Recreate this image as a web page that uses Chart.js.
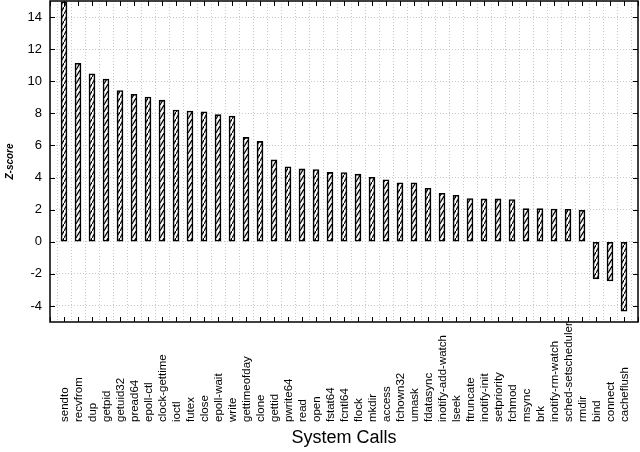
<!DOCTYPE html>
<html lang="en">
<head>
  <meta charset="UTF-8" />
  <title>System Calls z-score</title>
  <script src="https://cdn.jsdelivr.net/npm/chart.js"></script>
  <style>
    body { margin: 0; background: #fff; }
    .wrap { width: 640px; height: 452px; }
  </style>
</head>
<body>
  <div class="wrap"><canvas id="chart"></canvas></div>
  <script>
    // one bar per system call, sorted by score
    const syscalls = [
      'sendto', 'recvfrom', 'dup', 'getpid', 'getuid32', 'pread64', 'epoll-ctl',
      'clock-gettime', 'ioctl', 'futex', 'close', 'epoll-wait', 'write',
      'gettimeofday', 'clone', 'gettid', 'pwrite64', 'read', 'open', 'fstat64',
      'fcntl64', 'flock', 'mkdir', 'access', 'fchown32', 'umask', 'fdatasync',
      'inotify-add-watch', 'lseek', 'ftruncate', 'inotify-init', 'setpriority',
      'fchmod', 'msync', 'brk', 'inotify-rm-watch', 'sched-setscheduler', 'rmdir',
      'bind', 'connect', 'cacheflush'
    ];
    const zscores = [
      14.95, 11.12, 10.47, 10.14, 9.42, 9.19, 9.02,
      8.82, 8.21, 8.14, 8.1, 7.92, 7.83,
      6.5, 6.25, 5.1, 4.67, 4.54, 4.5, 4.32,
      4.31, 4.21, 4.02, 3.86, 3.67, 3.67, 3.33,
      3.02, 2.9, 2.69, 2.67, 2.67,
      2.63, 2.06, 2.06, 2.04, 2.02, 1.96,
      -2.31, -2.44, -4.33
    ];
    const yTicks = [-4, -2, 0, 2, 4, 6, 8, 10, 12, 14];
    const yMin = -5, yMax = 15;

    // empty slot at each end so the bars sit one step in from the frame
    const axisLabels = ['', ...syscalls, ''];
    const axisValues = [null, ...zscores, null];

    // steep "/" hatch fill like gnuplot pattern bars
    function hatch() {
      const c = document.createElement('canvas');
      c.width = 4; c.height = 7;
      const g = c.getContext('2d');
      g.fillStyle = '#fff';
      g.fillRect(0, 0, 4, 7);
      g.strokeStyle = '#000';
      g.lineWidth = 1.2;
      g.beginPath();
      g.moveTo(-0.5, 7.9); g.lineTo(4.5, -0.9);
      g.stroke();
      return g.createPattern(c, 'repeat');
    }

    // box round the plot plus inward tick marks on all four sides
    const frame = {
      id: 'frame',
      afterDatasetsDraw(chart) {
        const { ctx, chartArea: a, scales: { x, y } } = chart;
        ctx.save();
        ctx.strokeStyle = '#000';
        ctx.lineWidth = 1;
        ctx.beginPath();
        x.ticks.forEach((t, i) => {
          const px = Math.round(x.getPixelForTick(i)) + 0.5;
          ctx.moveTo(px, a.bottom); ctx.lineTo(px, a.bottom - 5);
          ctx.moveTo(px, a.top); ctx.lineTo(px, a.top + 5);
        });
        y.ticks.forEach((t, i) => {
          const py = Math.round(y.getPixelForTick(i)) + 0.5;
          ctx.moveTo(a.left, py); ctx.lineTo(a.left + 5, py);
          ctx.moveTo(a.right, py); ctx.lineTo(a.right - 5, py);
        });
        ctx.stroke();
        ctx.lineWidth = 1.5;
        ctx.strokeRect(a.left, a.top, a.width, a.height);
        ctx.restore();
      }
    };

    // category names read bottom to top, starting from a common baseline
    const xLabels = {
      id: 'xLabels',
      afterDraw(chart) {
        const { ctx, chartArea: a, scales: { x } } = chart;
        ctx.save();
        ctx.fillStyle = '#000';
        ctx.font = '11.5px "Liberation Sans", Arial, sans-serif';
        ctx.textAlign = 'left';
        ctx.textBaseline = 'middle';
        axisLabels.forEach((name, i) => {
          if (!name) return;
          ctx.save();
          ctx.translate(x.getPixelForTick(i) + 0.5, a.bottom + 100);
          ctx.rotate(-Math.PI / 2);
          ctx.fillText(name, 0, 0);
          ctx.restore();
        });
        ctx.restore();
      }
    };

    const gridStyle = { color: '#c8c8c8', lineWidth: 1, drawTicks: false };

    const ctx = document.getElementById('chart').getContext('2d');
    new Chart(ctx, {
      type: 'bar',
      data: {
        labels: axisLabels,
        datasets: [{
          data: axisValues,
          backgroundColor: hatch(),
          borderColor: '#000',
          borderWidth: 1.6,
          borderSkipped: false,
          barThickness: 6
        }]
      },
      options: {
        responsive: true,
        maintainAspectRatio: false,
        animation: false,
        layout: { padding: { top: 1, right: 2, left: 0, bottom: 0 } },
        plugins: { legend: { display: false }, tooltip: { enabled: false } },
        scales: {
          x: {
            offset: false,
            grid: gridStyle,
            border: { display: false, dash: [1, 2] },
            ticks: { display: false },
            title: {
              display: true,
              text: 'System Calls',
              color: '#000',
              font: { family: '"Liberation Sans", Arial, sans-serif', size: 18 },
              padding: { top: 0, bottom: 3 }
            },
            afterFit(s) { s.height = 130; }
          },
          y: {
            min: yMin,
            max: yMax,
            grid: gridStyle,
            border: { display: false, dash: [1, 2] },
            ticks: {
              color: '#000',
              padding: 8,
              font: { family: '"Liberation Sans", Arial, sans-serif', size: 13 }
            },
            title: {
              display: true,
              text: 'Z-score',
              color: '#000',
              font: { family: '"Liberation Sans", Arial, sans-serif', size: 10, style: 'italic', weight: 'bold' },
              padding: { top: 4, bottom: 0 }
            },
            afterBuildTicks(s) { s.ticks = yTicks.map(v => ({ value: v })); },
            afterFit(s) { s.width = 50; s.paddingTop = 0; s.paddingBottom = 0; }
          }
        }
      },
      plugins: [frame, xLabels]
    });
  </script>
</body>
</html>
